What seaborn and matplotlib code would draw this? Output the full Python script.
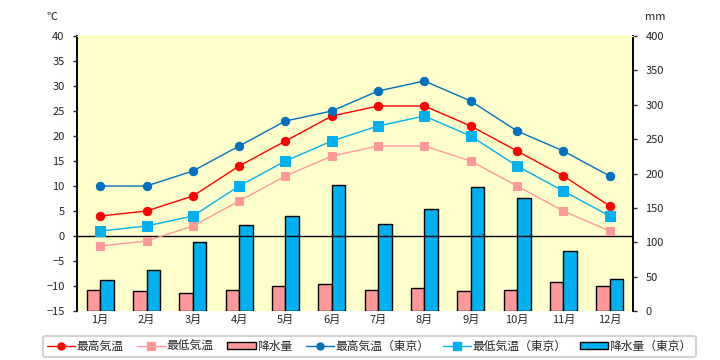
import numpy as np
import pandas as pd
import seaborn as sns
import matplotlib
matplotlib.use('Agg')
import matplotlib.pyplot as plt
from matplotlib.lines import Line2D
from matplotlib.patches import Patch, Rectangle

# データ
months = ['1月', '2月', '3月', '4月', '5月', '6月',
          '7月', '8月', '9月', '10月', '11月', '12月']
max_temp = [4, 5, 8, 14, 19, 24, 26, 26, 22, 17, 12, 6]
min_temp = [-2, -1, 2, 7, 12, 16, 18, 18, 15, 10, 5, 1]
precip = [30, 29, 26, 30, 37, 40, 30, 33, 29, 30, 42, 37]
max_temp_tokyo = [10, 10, 13, 18, 23, 25, 29, 31, 27, 21, 17, 12]
min_temp_tokyo = [1, 2, 4, 10, 15, 19, 22, 24, 20, 14, 9, 4]
precip_tokyo = [45, 60, 100, 125, 138, 184, 126, 148, 180, 164, 88, 46]

temp_ticks = list(range(-15, 45, 5))
precip_ticks = list(range(0, 450, 50))

sns.set_style('ticks')
plt.rcParams['font.family'] = ['Noto Sans CJK JP', 'DejaVu Sans']

fig = plt.figure(figsize=(7.2, 3.6), dpi=100)
ax = fig.add_axes([0.107, 0.136, 0.772, 0.764])  # 降水量 (右軸)
ax_t = ax.twinx()                                 # 気温 (左軸)

# 降水量の棒グラフ
df_bar = pd.DataFrame({
    '月': months * 2,
    '降水量': precip + precip_tokyo,
    '系列': ['降水量'] * 12 + ['降水量（東京）'] * 12,
})
sns.barplot(data=df_bar, x='月', y='降水量', hue='系列', ax=ax,
            palette=['#FF9999', '#00B0F0'], width=0.6, gap=0,
            edgecolor='black', linewidth=1, saturation=1, legend=False)

# 棒の幅を調整 (各系列を中心の左右に)
w = 0.29
for bar in [p for p in ax.patches if isinstance(p, Rectangle)]:
    c = bar.get_x() + bar.get_width() / 2
    k = round(c)
    bar.set_width(w)
    bar.set_x(k - w if c < k else k)

# 気温の折れ線
series = [
    (max_temp, '#FF0000', 'o', 6),
    (min_temp, '#FF9999', 's', 6),
    (max_temp_tokyo, '#0070C0', 'o', 6),
    (min_temp_tokyo, '#00B0F0', 's', 6.5),
]
for vals, col, mk, ms in series:
    sns.pointplot(x=months, y=vals, ax=ax_t, color=col, marker=mk,
                  markersize=ms, linewidth=1, errorbar=None)

ax_t.axhline(0, color='black', linewidth=1, zorder=1)

# 軸の設定
ax.set_facecolor('#FFFFCC')
ax.set_xlim(-0.5, 11.5)
ax.set_ylim(0, 400)
ax.set_yticks(precip_ticks)
ax.yaxis.tick_right()
ax_t.yaxis.tick_left()
ax_t.set_ylim(-15, 40)
ax_t.set_yticks(temp_ticks)

for a in (ax, ax_t):
    a.set_xlabel('')
    a.set_ylabel('')
    a.spines['bottom'].set_visible(False)
    a.spines['top'].set_color('#FFFF99')
    a.spines['left'].set_color('black')
    a.spines['right'].set_color('black')
    a.spines['left'].set_linewidth(1.2)
    a.spines['right'].set_linewidth(1.2)
    a.tick_params(axis='x', length=0, labelsize=8, pad=3)
    a.tick_params(axis='y', length=3, width=1, labelsize=8, pad=6)

ax.text(-0.045, 1.07, '℃', transform=ax.transAxes, ha='center', va='center', fontsize=8)
ax.text(1.04, 1.07, 'mm', transform=ax.transAxes, ha='center', va='center', fontsize=8)

# 凡例
handles = [
    Line2D([], [], color='#FF0000', marker='o', markersize=5, linewidth=1),
    Line2D([], [], color='#FF9999', marker='s', markersize=6, linewidth=1),
    Patch(facecolor='#FF9999', edgecolor='black', linewidth=1),
    Line2D([], [], color='#0070C0', marker='o', markersize=5, linewidth=1),
    Line2D([], [], color='#00B0F0', marker='s', markersize=6, linewidth=1),
    Patch(facecolor='#00B0F0', edgecolor='black', linewidth=1),
]
labels = ['最高気温', '最低気温', '降水量',
          '最高気温（東京）', '最低気温（東京）', '降水量（東京）']
leg = fig.legend(handles, labels, loc='center', bbox_to_anchor=(0.513, 0.038),
                 ncol=6, fontsize=8.5, frameon=True, fancybox=True,
                 handlelength=2.4, handleheight=0.45, handletextpad=0.1,
                 columnspacing=1.15, borderpad=0.35)
leg.get_frame().set_edgecolor('#C8C8C8')
leg.get_frame().set_linewidth(1.5)

fig.savefig('out.png', dpi=100)
